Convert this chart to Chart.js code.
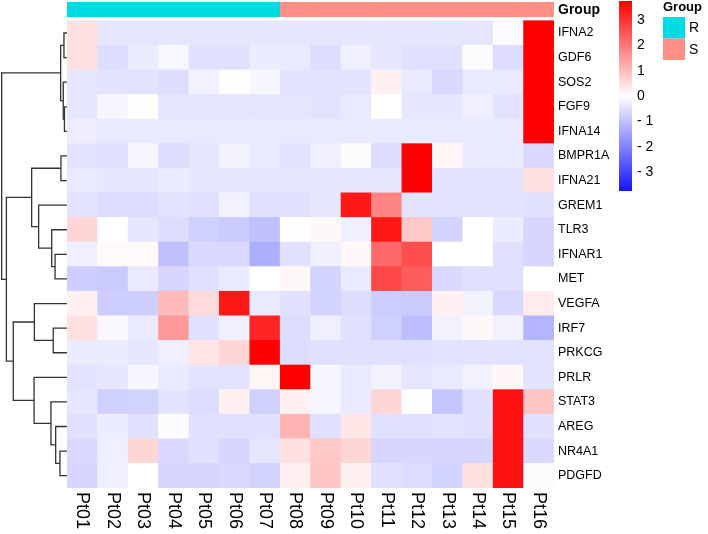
<!DOCTYPE html>
<html>
<head>
<meta charset="utf-8">
<script src="https://cdn.jsdelivr.net/npm/chart.js@4.4.0/dist/chart.umd.min.js"></script>
<style>
  body { margin: 0; background: #fff; }
</style>
</head>
<body>
<canvas id="heatmap" width="708" height="534"></canvas>
<script>
const patients = [
  'Pt01', 'Pt02', 'Pt03', 'Pt04', 'Pt05', 'Pt06', 'Pt07', 'Pt08',
  'Pt09', 'Pt10', 'Pt11', 'Pt12', 'Pt13', 'Pt14', 'Pt15', 'Pt16'
]
const groups = ['R', 'R', 'R', 'R', 'R', 'R', 'R', 'S', 'S', 'S', 'S', 'S', 'S', 'S', 'S', 'S']

const genes = [
  'IFNA2', 'GDF6', 'SOS2', 'FGF9', 'IFNA14', 'BMPR1A', 'IFNA21', 'GREM1', 'TLR3', 'IFNAR1',
  'MET', 'VEGFA', 'IRF7', 'PRKCG', 'PRLR', 'STAT3', 'AREG', 'NR4A1', 'PDGFD'
]

// scaled expression, one row per gene, columns Pt01..Pt16
const expr = [
  [0.45, -0.4, -0.4, -0.4, -0.4, -0.4, -0.4, -0.4, -0.4, -0.4, -0.4, -0.4, -0.4, -0.4, -0.08, 4.2],
  [0.45, -0.55, -0.3, -0.12, -0.5, -0.5, -0.3, -0.35, -0.55, -0.25, -0.4, -0.5, -0.5, -0.05, -0.55, 4.2],
  [-0.4, -0.45, -0.45, -0.55, -0.2, -0.03, -0.15, -0.45, -0.45, -0.45, 0.2, -0.35, -0.6, -0.35, -0.35, 4.2],
  [-0.4, -0.15, 0.05, -0.42, -0.42, -0.42, -0.42, -0.42, -0.45, -0.35, 0.0, -0.4, -0.4, -0.25, -0.45, 4.2],
  [-0.28, -0.35, -0.35, -0.35, -0.35, -0.35, -0.35, -0.35, -0.35, -0.35, -0.35, -0.35, -0.35, -0.35, -0.35, 4.2],
  [-0.45, -0.5, -0.15, -0.55, -0.4, -0.2, -0.35, -0.45, -0.25, -0.05, -0.55, 4.0, 0.15, -0.3, -0.3, -0.6],
  [-0.35, -0.4, -0.4, -0.3, -0.4, -0.4, -0.4, -0.4, -0.4, -0.4, -0.4, 4.0, -0.45, -0.45, -0.45, 0.45],
  [-0.45, -0.55, -0.55, -0.45, -0.5, -0.2, -0.5, -0.5, -0.4, 3.4, 1.8, -0.45, -0.45, -0.45, -0.45, -0.5],
  [0.6, 0.0, -0.4, -0.55, -0.75, -0.85, -1.0, 0.02, 0.1, -0.25, 3.4, 0.8, -0.7, 0.0, -0.3, -0.65],
  [-0.25, 0.08, 0.08, -1.0, -0.6, -0.6, -1.3, -0.5, -0.25, 0.1, 2.2, 2.6, 0.0, 0.0, -0.5, -0.65],
  [-0.8, -0.85, -0.35, -0.65, -0.5, -0.35, 0.0, 0.1, -0.7, -0.35, 2.7, 2.4, -0.6, -0.5, -0.5, 0.0],
  [0.2, -0.8, -0.8, 1.0, 0.55, 3.4, -0.35, -0.5, -0.7, -0.55, -0.8, -0.85, 0.2, -0.2, -0.6, 0.3],
  [0.45, -0.1, -0.35, 1.5, -0.5, -0.25, 3.2, -0.55, -0.25, -0.5, -0.75, -1.05, -0.2, 0.1, -0.2, -1.2],
  [-0.3, -0.3, -0.4, -0.25, 0.4, 0.6, 4.0, -0.55, -0.5, -0.5, -0.5, -0.5, -0.45, -0.45, -0.45, -0.45],
  [-0.45, -0.4, -0.15, -0.35, -0.45, -0.45, 0.15, 4.0, -0.15, -0.35, -0.2, -0.4, -0.35, -0.2, 0.12, -0.45],
  [-0.4, -0.75, -0.7, -0.45, -0.55, 0.2, -0.75, 0.2, -0.15, -0.35, 0.6, -0.02, -0.9, -0.5, 3.5, 0.85],
  [-0.5, -0.3, -0.5, -0.05, -0.5, -0.5, -0.5, 1.1, -0.5, 0.35, -0.5, -0.5, -0.45, -0.5, 3.5, -0.5],
  [-0.6, -0.25, 0.6, -0.6, -0.5, -0.65, -0.4, 0.45, 0.8, 0.6, -0.65, -0.65, -0.65, -0.65, 3.5, -0.6],
  [-0.65, -0.25, 0.0, -0.65, -0.65, -0.6, -0.7, 0.25, 0.85, 0.2, -0.5, -0.55, -0.7, 0.45, 3.5, -0.05]
]

// row clustering, hclust style: negative = gene row (1-based), positive = earlier merge
const merges = [
  [-1, -2, 0.108],
  [-4, -5, 0.092],
  [-3, 2, 0.131],
  [1, 3, 0.217],
  [-6, -7, 0.207],
  [-10, -11, 0.40],
  [-9, 6, 0.51],
  [-8, 7, 0.94],
  [5, 8, 1.17],
  [-13, -14, 0.46],
  [-12, 10, 1.08],
  [-18, -19, 0.24],
  [-17, 12, 0.38],
  [-16, 13, 0.535],
  [-15, 14, 1.09],
  [11, 15, 1.774],
  [9, 16, 2.0],
  [4, 17, 2.155]
]

const legendTicks = [3, 2, 1, 0, -1, -2, -3]
const colorLimit = 3.75
const groupColors = { R: '#00DCE3', S: '#FF8E86' }

function heatColor (v) {
  const t = Math.max(-1, Math.min(1, v / colorLimit))
  if (t >= 0) {
    const k = Math.round(255 * (1 - t))
    return `rgb(255,${k},${k})`
  }
  const k = Math.round(255 * (1 + t * 0.92))
  return `rgb(${k},${k},255)`
}

// heatmap cells as floating bars
const cells = []
const cellColors = []
expr.forEach((row, r) => {
  row.forEach((v, c) => {
    cells.push({ x: c + 0.5, y: [r, r + 1] })
    cellColors.push(heatColor(v))
  })
})

const groupCells = groups.map((g, c) => ({ x: c + 0.5, y: [-0.76, -0.16] }))

// dendrogram links
const nodes = []
function nodePos (id) {
  return id < 0 ? { x: 0, y: -id - 0.5 } : nodes[id - 1]
}
const dendroSets = merges.map(([a, b, h]) => {
  const pa = nodePos(a)
  const pb = nodePos(b)
  nodes.push({ x: -h, y: (pa.y + pb.y) / 2 })
  return {
    type: 'line',
    data: [
      { x: pa.x, y: pa.y }, { x: -h, y: pa.y },
      { x: -h, y: pb.y }, { x: pb.x, y: pb.y }
    ],
    borderColor: '#333333',
    borderWidth: 1.3,
    pointRadius: 0,
    pointHoverRadius: 0,
    tension: 0,
    fill: false
  }
})

const labelsPlugin = {
  id: 'heatLabels',
  afterDraw (chart) {
    const { ctx, chartArea, scales: { x, y } } = chart
    ctx.save()
    ctx.fillStyle = '#000'
    ctx.textBaseline = 'middle'
    ctx.textAlign = 'left'

    // gene names
    ctx.font = '12.5px "Liberation Sans", Arial, sans-serif'
    genes.forEach((g, r) => {
      ctx.fillText(g, chartArea.right + 4, y.getPixelForValue(r + 0.5))
    })
    ctx.font = 'bold 14px "Liberation Sans", Arial, sans-serif'
    ctx.fillText('Group', chartArea.right + 4, y.getPixelForValue(-0.43))

    // patient names, rotated
    ctx.font = '18px "Liberation Sans", Arial, sans-serif'
    patients.forEach((p, c) => {
      ctx.save()
      ctx.translate(x.getPixelForValue(c + 0.5), chartArea.bottom + 4)
      ctx.rotate(Math.PI / 2)
      ctx.fillText(p, 0, 0)
      ctx.restore()
    })

    // colour bar
    const barX = 619
    const barTop = 1
    const barH = 190
    const grad = ctx.createLinearGradient(0, barTop, 0, barTop + barH)
    grad.addColorStop(0, heatColor(colorLimit))
    grad.addColorStop(0.5, heatColor(0))
    grad.addColorStop(1, heatColor(-colorLimit))
    ctx.fillStyle = grad
    ctx.fillRect(barX, barTop, 13, barH)
    ctx.fillStyle = '#000'
    ctx.font = '14px "Liberation Sans", Arial, sans-serif'
    legendTicks.forEach(v => {
      const ty = barTop + (colorLimit - v) / (2 * colorLimit) * barH
      const txt = v < 0 ? '- ' + Math.abs(v) : String(v)
      ctx.fillText(txt, barX + 18, ty)
    })

    // group legend
    ctx.font = 'bold 13px "Liberation Sans", Arial, sans-serif'
    ctx.fillText('Group', 663, 7)
    ctx.font = '14px "Liberation Sans", Arial, sans-serif'
    ;['R', 'S'].forEach((g, i) => {
      ctx.fillStyle = groupColors[g]
      ctx.fillRect(663, 17 + i * 21.5, 22, 21.5)
      ctx.fillStyle = '#000'
      ctx.fillText(g, 689, 28 + i * 22)
    })
    ctx.restore()
  }
}

let heatmap = new Chart(document.querySelector('#heatmap'), {
  type: 'bar',
  plugins: [labelsPlugin],
  data: {
    datasets: [
      {
        data: cells,
        backgroundColor: cellColors,
        borderWidth: 0,
        grouped: false,
        barPercentage: 1,
        categoryPercentage: 1
      },
      {
        data: groupCells,
        backgroundColor: groups.map(g => groupColors[g]),
        borderWidth: 0,
        grouped: false,
        barPercentage: 1,
        categoryPercentage: 1
      },
      ...dendroSets
    ]
  },
  options: {
    responsive: false,
    animation: false,
    events: [],
    layout: {
      autoPadding: false,
      padding: { left: 0, right: 154, top: 2, bottom: 46 }
    },
    scales: {
      x: {
        type: 'linear',
        display: false,
        offset: false,
        min: -2.21,
        max: 16,
        ticks: { stepSize: 1, includeBounds: false }
      },
      y: {
        type: 'linear',
        display: false,
        reverse: true,
        min: -0.76,
        max: 19
      }
    },
    plugins: {
      legend: { display: false },
      tooltip: { enabled: false }
    }
  }
})
</script>
</body>
</html>
